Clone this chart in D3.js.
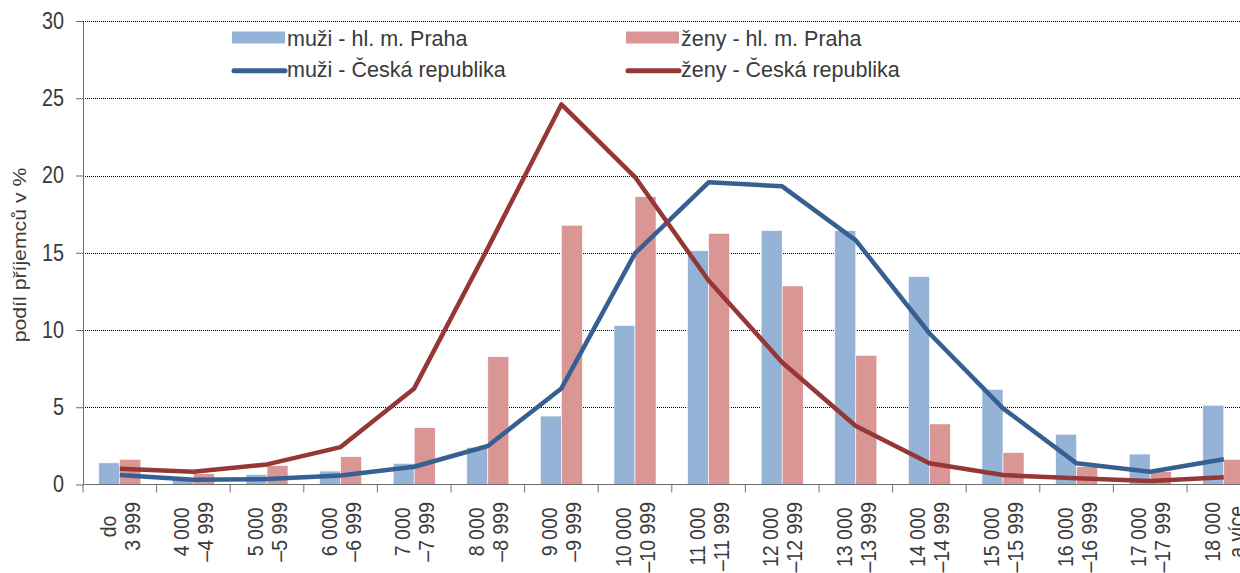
<!DOCTYPE html>
<meta charset="utf-8">
<style>
body { margin: 0; background: #fff; }
svg { display: block; font-family: "Liberation Sans", Arial, sans-serif; }
.grid line { stroke: #000; stroke-dasharray: 1,1; stroke-width: 1; }
.axis path, .axis line { stroke: #6d6d6d; }
.axis text { fill: #3a3a3a; font-size: 20px; }
</style>
<body>
<svg width="1240" height="573"></svg>
<script src="https://d3js.org/d3.v7.min.js"></script>
<script>
// income bands (CZK)
var categories = [
  ["do", "3 999"], ["4 000", "–4 999"], ["5 000", "–5 999"], ["6 000", "–6 999"],
  ["7 000", "–7 999"], ["8 000", "–8 999"], ["9 000", "–9 999"], ["10 000", "–10 999"],
  ["11 000", "–11 999"], ["12 000", "–12 999"], ["13 000", "–13 999"], ["14 000", "–14 999"],
  ["15 000", "–15 999"], ["16 000", "–16 999"], ["17 000", "–17 999"], ["18 000", "a více"]
];
var muziPraha = [1.4, 0.3, 0.65, 0.87, 1.37, 2.4, 4.43, 10.3, 15.13, 16.43, 16.43, 13.45, 6.16, 3.25, 1.97, 5.13];
var zenyPraha = [1.63, 0.7, 1.22, 1.8, 3.68, 8.27, 16.78, 18.63, 16.26, 12.85, 8.36, 3.92, 2.06, 1.15, 0.83, 1.63];
var muziCR = [0.62, 0.3, 0.35, 0.58, 1.15, 2.49, 6.22, 14.96, 19.56, 19.3, 15.8, 9.79, 4.93, 1.37, 0.83, 1.63];
var zenyCR = [1.02, 0.83, 1.3, 2.42, 6.22, 15.3, 24.6, 19.9, 13.2, 7.9, 3.79, 1.37, 0.61, 0.4, 0.23, 0.47];
var yTicks = [0, 5, 10, 15, 20, 25, 30];
var seriesNames = ["muži - hl. m. Praha", "ženy - hl. m. Praha", "muži - Česká republika", "ženy - Česká republika"];

var colBlueBar = "#95b3d7", colRedBar = "#d99694",
    colBlueLine = "#376092", colRedLine = "#953735";

var svg = d3.select("svg");
var plotLeft = 83, plotTop = 21, plotBottom = 484.5, step = 73.6;

var keys = categories.map(function(d, i) { return i; });
var x = d3.scaleBand().domain(keys).range([plotLeft, plotLeft + step * keys.length]).padding(0);
var x1 = d3.scaleBand().domain([0, 1]).range([0, x.bandwidth()]).paddingInner(0).paddingOuter(0.75);
var y = d3.scaleLinear().domain([0, 30]).range([plotBottom, plotTop]);

// gridlines
svg.append("g").attr("class", "grid")
  .selectAll("line").data(yTicks.slice(1)).enter().append("line")
    .attr("x1", plotLeft).attr("x2", 1240)
    .attr("y1", function(d) { return Math.round(y(d)) + 0.5; })
    .attr("y2", function(d) { return Math.round(y(d)) + 0.5; });

// bars
var bars = svg.append("g");
[muziPraha, zenyPraha].forEach(function(vals, s) {
  bars.selectAll(".b" + s).data(vals).enter().append("rect")
    .attr("class", "b" + s)
    .attr("x", function(d, i) { return x(i) + x1(s); })
    .attr("width", x1.bandwidth())
    .attr("y", function(d) { return y(d); })
    .attr("height", function(d) { return y(0) - y(d); })
    .attr("fill", s === 0 ? colBlueBar : colRedBar)
    .attr("stroke", "#fff").attr("stroke-width", 0.6);
});

// axes
var yAxis = svg.append("g").attr("class", "axis")
  .attr("transform", "translate(" + plotLeft + ",0)")
  .call(d3.axisLeft(y).tickValues(yTicks).tickSize(7).tickPadding(12).tickSizeOuter(0));
yAxis.selectAll(".tick text")
  .style("font-size", "19.8px")
  .attr("transform", "scale(1,1.18)");

var xAxis = svg.append("g").attr("class", "axis")
  .attr("transform", "translate(0," + plotBottom + ")");
xAxis.append("line").attr("x1", plotLeft).attr("x2", 1240);
xAxis.selectAll(".tk").data(d3.range(keys.length + 1)).enter().append("line")
  .attr("x1", function(d) { return plotLeft + d * step; })
  .attr("x2", function(d) { return plotLeft + d * step; })
  .attr("y1", 0).attr("y2", 8);

// rotated two-line category labels
var labels = svg.append("g").attr("class", "axis");
categories.forEach(function(lines, i) {
  var cx = x(i) + x.bandwidth() / 2;
  var g = labels.append("g");
  var texts = lines.map(function(t) {
    return g.append("text").text(t)
      .style("font-size", "19.5px")
      .attr("text-anchor", "middle")
      .attr("dominant-baseline", "central");
  });
  var w = d3.max(texts, function(t) { return t.node().getComputedTextLength(); });
  texts.forEach(function(t, j) {
    var lx = cx + (j === 0 ? -12 : 12);
    var ly = 502 + w / 2;
    t.attr("transform", "translate(" + lx + "," + ly + ") rotate(-90) scale(1,1.17)");
  });
});

// lines
var line = d3.line()
  .x(function(d, i) { return x(i) + x.bandwidth() / 2; })
  .y(function(d) { return y(d); });
[[muziCR, colBlueLine], [zenyCR, colRedLine]].forEach(function(s) {
  svg.append("path").datum(s[0])
    .attr("d", line)
    .attr("fill", "none")
    .attr("stroke", s[1])
    .attr("stroke-width", 4.5)
    .attr("stroke-linejoin", "round");
});

// y title
svg.append("text")
  .attr("transform", "translate(20,255) rotate(-90) scale(1.18,1)")
  .attr("text-anchor", "middle")
  .attr("dominant-baseline", "central")
  .style("font-size", "18px").style("fill", "#3a3a3a")
  .text("podíl příjemců v %");

// legend
var legend = svg.append("g").style("font-size", "21.5px").style("fill", "#3a3a3a");
var legPos = [[232, 37.5, 38.5, "bar", colBlueBar], [626, 37.5, 38.5, "bar", colRedBar],
              [232, 70.7, 69.5, "line", colBlueLine], [626, 70.7, 69.5, "line", colRedLine]];
legPos.forEach(function(p, i) {
  if (p[3] === "bar") {
    legend.append("rect").attr("x", p[0]).attr("y", p[1] - 6).attr("width", 53).attr("height", 12).attr("fill", p[4]);
  } else {
    legend.append("line").attr("x1", p[0] + 2).attr("x2", p[0] + 53).attr("y1", p[1]).attr("y2", p[1])
      .attr("stroke", p[4]).attr("stroke-width", 5).attr("stroke-linecap", "round");
  }
  legend.append("text").attr("x", p[0] + 55).attr("y", p[2])
    .attr("dominant-baseline", "central").text(seriesNames[i]);
});
</script>
</body>
